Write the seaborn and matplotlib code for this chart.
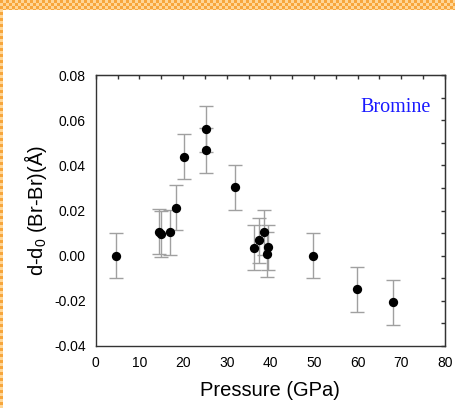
import matplotlib
matplotlib.use("Agg")
import matplotlib.pyplot as plt
import numpy as np
import pandas as pd
import seaborn as sns
from matplotlib.ticker import MultipleLocator


pressure = [4.6, 14.5, 15.0, 17.1, 18.4, 20.2, 25.2, 25.3, 31.9,
            36.3, 37.4, 38.6, 39.5, 39.2, 49.8, 59.9, 68.2]
delta_d = [0.0, 0.0106, 0.0096, 0.0104, 0.0213, 0.0438, 0.0561, 0.0467, 0.0303,
           0.0035, 0.0068, 0.0104, 0.0037, 0.0006, 0.0, -0.0149, -0.0206]
delta_err = [0.01] * len(pressure)

df = pd.DataFrame({"pressure": pressure, "delta": delta_d, "err": delta_err})

sns.set_style("white")
plt.rcParams["font.family"] = ["Liberation Sans", "DejaVu Sans"]
plt.rcParams["text.color"] = "black"
plt.rcParams["axes.labelcolor"] = "black"

fig = plt.figure(figsize=(4.55, 4.08), dpi=100)

# checkered frame on top and left edges
tile = 3
top_rows, left_cols = 10, 3
nx, ny = 455, 408
yy, xx = np.mgrid[0:ny, 0:nx]
checker = ((xx // tile + yy // tile) % 2).astype(float)
frame = np.ones((ny, nx, 4))
dark = np.array([247, 166, 60, 255]) / 255
light = np.array([255, 214, 150, 255]) / 255
mask = (yy < top_rows) | (xx < left_cols)
frame[mask & (checker == 0)] = dark
frame[mask & (checker == 1)] = light
frame[~mask] = [1, 1, 1, 0]
fig.figimage(frame, 0, 0, origin="upper", zorder=0)

ax = fig.add_axes([0.2103, 0.152, 0.7677, 0.664])

ax.errorbar(df["pressure"], df["delta"], yerr=df["err"], fmt="none",
            ecolor="#a0a0a0", elinewidth=1.0, capsize=5, capthick=1.0, zorder=2)
sns.scatterplot(data=df, x="pressure", y="delta", ax=ax, color="black",
                s=45, edgecolor="black", linewidth=0, zorder=3, legend=False)

ax.set_xlim(0, 80)
ax.set_ylim(-0.04, 0.08)
ax.xaxis.set_major_locator(MultipleLocator(10))
ax.xaxis.set_minor_locator(MultipleLocator(5))
ax.yaxis.set_major_locator(MultipleLocator(0.02))
ax.yaxis.set_minor_locator(MultipleLocator(0.01))
ax.yaxis.set_major_formatter(plt.FormatStrFormatter("%.2f"))

for side in ax.spines.values():
    side.set_color("#333333")
    side.set_linewidth(1.0)

ax.tick_params(axis="both", which="major", direction="out", length=4, width=1,
               labelsize=10, colors="#333333", labelcolor="black", pad=3)
ax.tick_params(axis="both", which="minor", direction="in", length=3, width=1,
               colors="#333333")
ax.tick_params(which="both", top=False, right=False)

# inward ticks on the top and right spines
ax_top = ax.secondary_xaxis("top")
ax_top.xaxis.set_major_locator(MultipleLocator(5))
ax_top.tick_params(direction="in", length=3, width=1, colors="#333333", labeltop=False)
ax_right = ax.secondary_yaxis("right")
ax_right.yaxis.set_major_locator(MultipleLocator(0.01))
ax_right.tick_params(direction="in", length=3, width=1, colors="#333333", labelright=False)

ax.set_xlabel("Pressure (GPa)", fontsize=14.5, labelpad=8, color="black")
ax.set_ylabel(r"d-d$_\mathregular{0}$ (Br-Br)(Å)", fontsize=14.5, labelpad=4, color="black")

ax.text(0.86, 0.88, "Bromine", transform=ax.transAxes, ha="center", va="center",
        color="#1a1aff", fontsize=14.5, family=["Liberation Serif", "DejaVu Serif"])

fig.savefig("out.png", dpi=100)
